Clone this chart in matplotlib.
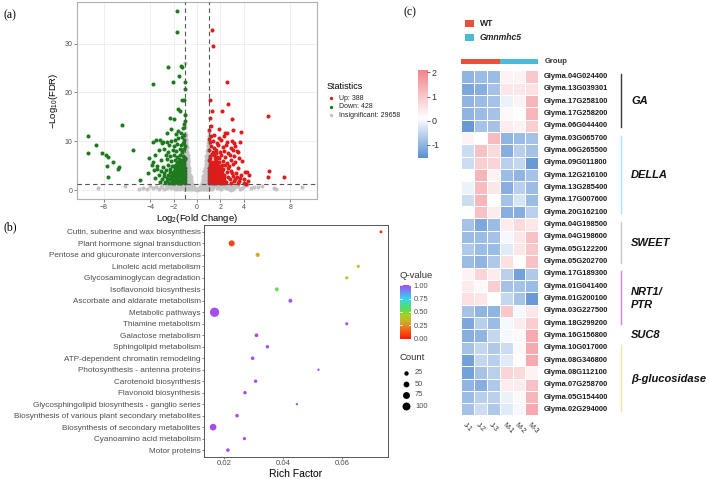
import numpy as np
import matplotlib
matplotlib.use('Agg')
import matplotlib.pyplot as plt
from matplotlib.colors import LinearSegmentedColormap, TwoSlopeNorm, Normalize

plt.rcParams['font.family'] = ['Liberation Sans', 'DejaVu Sans']
plt.rcParams['mathtext.default'] = 'regular'

# ---------------- (a) volcano: (log2 fold change, -log10 FDR) ----------------
up_pts = [
    (1.31, 32.7), (1.40, 29.6), (2.60, 22.1), (1.11, 18.5), (2.63, 17.7), (1.31, 16.1), (2.14, 16.1),
    (6.11, 15.1), (2.98, 14.5), (1.11, 14.7), (1.91, 12.6), (3.12, 12.4), (3.75, 11.9), (2.40, 11.7),
    (2.60, 11.7), (3.72, 9.8), (3.20, 9.7), (3.46, 8.1), (1.05, 12.3), (1.20, 13.2), (6.17, 4.0),
    (6.08, 2.7), (7.49, 2.7), (4.24, 1.35), (4.00, 1.4),
    (1.20, 11.0), (1.50, 11.2), (1.90, 10.7), (2.30, 11.0), (1.05, 10.5),
    (1.10, 9.9), (1.40, 10.1), (1.70, 9.7), (2.10, 10.2), (2.60, 9.8), (3.00, 10.1),
    (1.20, 9.0), (1.50, 8.7), (1.80, 9.2), (2.20, 8.8), (2.50, 9.3), (2.90, 8.6), (3.30, 9.1),
    (1.05, 8.2), (1.35, 7.9), (1.65, 8.3), (1.95, 7.8), (2.30, 8.1), (2.70, 7.7), (3.10, 8.3), (3.50, 7.9),
    (1.15, 7.0), (1.45, 7.3), (1.75, 6.8), (2.05, 7.1), (2.40, 6.7), (2.80, 7.2), (3.20, 6.9), (3.60, 6.6),
    (1.05, 6.1), (1.30, 5.8), (1.60, 6.2), (1.90, 5.7), (2.20, 6.0), (2.55, 5.6), (2.90, 6.2), (3.30, 5.8),
    (3.90, 5.9), (2.40, 5.1), (2.75, 4.9), (3.10, 5.3), (3.50, 4.6), (2.60, 3.8), (2.95, 4.0),
    (3.35, 3.6), (4.30, 3.75), (4.10, 3.7), (2.70, 2.7), (3.05, 3.0), (3.45, 2.6), (3.80, 3.1), (4.50, 3.2),
    (2.50, 1.7), (2.85, 2.2), (3.20, 1.9), (3.60, 1.8), (2.90, 1.45), (3.50, 1.5), (3.30, 2.3), (3.70, 2.5),
    (4.05, 2.2), (4.40, 1.9), (2.65, 4.5), (3.00, 3.5),
    # dense block just past the fold-change cut-off
    (1.04, 1.5), (1.18, 1.6), (1.33, 1.45), (1.49, 1.55), (1.64, 1.5), (1.79, 1.6), (1.96, 1.45), (2.12, 1.55), (2.31, 1.5),
    (1.06, 2.1), (1.21, 2.2), (1.36, 2.0), (1.52, 2.15), (1.67, 2.05), (1.83, 2.2), (1.98, 2.0), (2.14, 2.15), (2.33, 2.05),
    (1.03, 2.7), (1.19, 2.75), (1.34, 2.65), (1.50, 2.8), (1.66, 2.7), (1.81, 2.65), (1.97, 2.8), (2.13, 2.7), (2.29, 2.75),
    (1.07, 3.3), (1.22, 3.35), (1.37, 3.25), (1.53, 3.3), (1.68, 3.4), (1.84, 3.25), (2.00, 3.35), (2.16, 3.3), (2.35, 3.2),
    (1.04, 3.9), (1.20, 3.95), (1.35, 3.85), (1.51, 3.9), (1.66, 4.0), (1.82, 3.85), (1.98, 3.95), (2.18, 3.9),
    (1.06, 4.5), (1.22, 4.55), (1.38, 4.45), (1.54, 4.5), (1.70, 4.6), (1.86, 4.45), (2.04, 4.5), (2.24, 4.4),
    (1.08, 5.1), (1.25, 5.15), (1.42, 5.05), (1.58, 5.2), (1.75, 5.1), (1.93, 5.0), (2.12, 5.2),
    (1.12, 5.7), (1.45, 5.75), (1.72, 5.6), (1.15, 6.5), (1.55, 6.6), (1.30, 7.4), (1.60, 7.6), (1.90, 6.5),
]
down_pts = [
    (-1.74, 36.7), (-1.71, 32.4), (-2.48, 25.2), (-1.36, 25.4), (-1.27, 25.2), (-1.53, 23.3), (-3.80, 21.7),
    (-2.05, 22.1), (-1.02, 22.2), (-1.02, 20.6), (-1.33, 18.5), (-1.13, 18.5), (-1.62, 16.6), (-1.48, 16.3),
    (-2.34, 14.7), (-1.97, 14.5), (-1.05, 15.3), (-1.07, 14.2), (-1.10, 13.6), (-1.20, 12.8), (-1.60, 12.2),
    (-2.20, 12.5), (-1.40, 11.7), (-1.80, 11.4), (-2.60, 11.6), (-1.15, 11.2),
    (-6.48, 13.4), (-9.32, 11.1), (-8.66, 9.3), (-9.38, 7.7), (-8.14, 7.7), (-7.80, 7.2), (-7.68, 6.8),
    (-7.22, 5.7), (-7.74, 5.0), (-6.71, 4.8), (-6.74, 4.4), (-7.60, 2.7), (-5.53, 8.2), (-4.90, 2.1),
    (-4.20, 3.6), (-3.90, 5.1), (-3.60, 2.4), (-3.40, 4.4), (-4.10, 6.5), (-3.50, 10.2), (-3.75, 9.8),
    (-3.20, 10.3), (-2.90, 9.9), (-2.60, 9.9), (-2.20, 10.1), (-1.90, 10.3), (-1.60, 10.6), (-1.30, 10.9),
    (-1.10, 10.2), (-3.00, 9.6), (-2.40, 9.3), (-2.00, 9.0), (-1.70, 9.4), (-1.40, 9.2), (-1.20, 9.7),
    (-1.05, 9.0), (-3.30, 8.2), (-2.80, 8.5), (-2.50, 7.9), (-2.10, 8.3), (-1.80, 8.0), (-1.50, 8.4),
    (-1.25, 7.8), (-1.10, 8.5), (-3.60, 7.1), (-2.70, 7.3), (-2.30, 6.9), (-2.00, 7.2), (-1.70, 6.8),
    (-1.45, 7.3), (-1.20, 7.0), (-1.05, 6.6), (-3.80, 5.8), (-3.10, 6.1), (-2.60, 6.3), (-2.20, 5.9),
    (-1.90, 6.2), (-1.60, 5.7), (-1.35, 6.1), (-1.15, 5.9), (-1.02, 6.4), (-3.40, 5.0), (-2.90, 4.8),
    (-2.50, 5.2), (-2.15, 4.9), (-3.70, 4.2), (-3.10, 3.9), (-2.70, 4.1), (-2.35, 3.8), (-3.30, 3.1),
    (-2.80, 2.8), (-2.50, 3.2), (-2.20, 2.9), (-3.00, 2.2), (-2.60, 1.9), (-2.30, 2.3), (-2.40, 1.5),
    (-2.75, 1.6), (-3.20, 1.7), (-2.55, 2.5), (-2.35, 4.4), (-2.85, 3.5), (-2.15, 3.5),
    (-1.15, 6.5), (-1.30, 8.3), (-1.55, 6.4),
    # dense block just past the fold-change cut-off
    (-1.04, 1.5), (-1.19, 1.6), (-1.34, 1.45), (-1.50, 1.55), (-1.65, 1.5), (-1.81, 1.6), (-1.97, 1.45), (-2.13, 1.55),
    (-1.06, 2.1), (-1.21, 2.2), (-1.37, 2.0), (-1.52, 2.15), (-1.68, 2.05), (-1.84, 2.2), (-2.00, 2.0), (-2.16, 2.15),
    (-1.03, 2.7), (-1.18, 2.75), (-1.33, 2.65), (-1.49, 2.8), (-1.65, 2.7), (-1.80, 2.65), (-1.96, 2.8), (-2.12, 2.7),
    (-1.07, 3.3), (-1.22, 3.35), (-1.38, 3.25), (-1.54, 3.3), (-1.69, 3.4), (-1.85, 3.25), (-2.02, 3.35),
    (-1.04, 3.9), (-1.20, 3.95), (-1.35, 3.85), (-1.51, 3.9), (-1.67, 4.0), (-1.83, 3.85), (-1.99, 3.95),
    (-1.06, 4.5), (-1.22, 4.55), (-1.38, 4.45), (-1.54, 4.5), (-1.71, 4.6), (-1.88, 4.45),
    (-1.08, 5.1), (-1.25, 5.15), (-1.42, 5.05), (-1.59, 5.2), (-1.77, 5.1), (-1.95, 5.0),
    (-1.12, 5.6), (-1.40, 5.7), (-1.70, 5.6),
]
# insignificant genes: columns of (log2FC, [-log10 FDR, ...]) inside |log2FC| < 1
ns_columns = [
    (-1.00, [0.3, 1.0, 1.8, 2.6, 3.4, 4.2, 5.0, 5.8, 6.6, 7.4, 8.2, 9.0, 9.8, 10.7, 11.8, 13.0, 15.5, 26.1]),
    (-0.96, [0.6, 1.4, 2.2, 3.0, 3.8, 4.6, 5.4, 6.2, 7.0, 7.8, 8.6, 9.5, 10.4, 11.2]),
    (-0.91, [0.2, 1.0, 1.8, 2.6, 3.4, 4.2, 5.0, 5.8, 6.7, 7.6, 8.4, 9.3, 10.1]),
    (-0.86, [0.5, 1.3, 2.1, 2.9, 3.7, 4.6, 5.5, 6.3, 7.1, 7.9, 8.8]),
    (-0.81, [0.2, 0.9, 1.7, 2.5, 3.3, 4.1, 4.9, 5.7, 6.5, 7.3]),
    (-0.75, [0.5, 1.2, 2.0, 2.8, 3.5, 4.3, 5.1, 5.9]),
    (-0.69, [0.2, 0.9, 1.6, 2.4, 3.1, 3.9, 4.6]),
    (-0.62, [0.4, 1.1, 1.8, 2.5, 3.2]),
    (-0.55, [0.2, 0.8, 1.4, 2.0, 2.6]),
    (-0.48, [0.4, 1.0, 1.6]),
    (-0.40, [0.2, 0.7, 1.2]),
    (-0.32, [0.4, 0.9]),
    (-0.24, [0.2, 0.6]),
    (-0.16, [0.3]),
    (-0.08, [0.15]),
    (0.00, [0.1]),
    (0.08, [0.2]),
    (0.16, [0.15, 0.5]),
    (0.24, [0.3, 0.7]),
    (0.32, [0.2, 0.7, 1.1]),
    (0.40, [0.4, 0.9, 1.4]),
    (0.48, [0.2, 0.8, 1.4, 2.0]),
    (0.55, [0.5, 1.1, 1.7, 2.3, 2.9]),
    (0.62, [0.3, 1.0, 1.7, 2.5, 3.2, 3.9]),
    (0.69, [0.6, 1.4, 2.2, 3.0, 3.8, 4.5]),
    (0.75, [0.2, 1.0, 1.8, 2.6, 3.4, 4.3, 5.2, 6.0]),
    (0.81, [0.5, 1.3, 2.1, 2.9, 3.7, 4.5, 5.3, 6.1, 7.0]),
    (0.86, [0.2, 0.9, 1.7, 2.5, 3.3, 4.1, 4.9, 5.7, 6.5, 7.3, 8.1]),
    (0.91, [0.5, 1.3, 2.1, 2.9, 3.7, 4.5, 5.3, 6.1, 6.9, 7.7, 8.5, 9.3]),
    (0.96, [0.2, 1.0, 1.8, 2.6, 3.4, 4.2, 5.0, 5.8, 6.6, 7.4, 8.2, 9.0, 9.8]),
    (1.00, [0.4, 1.1, 1.9, 2.7, 3.5, 4.3, 5.1, 5.9, 6.7, 7.5, 8.3, 9.1, 10.0, 11.0, 12.0]),
]
ns_low = [
    (-8.5, 0.4), (-6.2, 0.8), (-5.0, 0.3), (-4.6, 0.5), (-4.0, 0.9), (-3.5, 0.6), (-3.0, 1.0), (-2.6, 0.4),
    (-2.3, 1.1), (-2.0, 0.7), (-1.7, 0.3), (-1.5, 1.0), (-1.3, 0.6), (-1.2, 1.1), (-1.1, 0.2), (1.1, 0.3),
    (1.2, 1.0), (1.4, 0.6), (1.6, 1.1), (1.9, 0.4), (2.2, 0.9), (2.5, 0.5), (2.8, 1.1), (2.95, 0.1),
    (3.1, 0.3), (3.5, 0.8), (3.9, 0.5), (4.3, 1.0), (4.6, 0.35), (5.2, 0.6), (5.6, 0.9), (6.57, 0.5),
    (6.8, 0.2), (9.0, 0.75), (-1.8, 0.9), (-2.8, 0.2), (1.8, 0.8), (3.3, 0.6),
    (-3.3, 0.3), (-3.1, 0.7), (-2.7, 1.0), (-2.5, 0.8), (-2.2, 0.4), (-2.05, 1.15), (-1.9, 0.2), (-1.6, 0.6),
    (-1.45, 0.3), (-1.35, 0.9), (-1.15, 0.6), (-1.05, 1.15), (1.05, 0.7), (1.15, 1.15), (1.3, 0.3), (1.5, 0.8),
    (1.7, 0.5), (2.0, 1.1), (2.1, 0.2), (2.35, 0.6), (2.65, 0.8), (2.75, 0.3), (3.0, 0.7), (3.25, 1.0),
    (3.7, 0.3), (4.0, 0.8), (-3.8, 0.4), (-4.3, 0.2), (4.9, 0.6), (-1.75, 1.1), (1.35, 1.05), (2.45, 1.1),
]
n_up, n_down, n_ns = 388, 428, 29658

# ---------------- (b) KEGG enrichment ----------------
pathways = [
    'Cutin, suberine and wax biosynthesis', 'Plant hormone signal transduction',
    'Pentose and glucuronate interconversions', 'Linoleic acid metabolism',
    'Glycosaminoglycan degradation', 'Isoflavonoid biosynthesis',
    'Ascorbate and aldarate metabolism', 'Metabolic pathways', 'Thiamine metabolism',
    'Galactose metabolism', 'Sphingolipid metabolism', 'ATP-dependent chromatin remodeling',
    'Photosynthesis - antenna proteins', 'Carotenoid biosynthesis', 'Flavonoid biosynthesis',
    'Glycosphingolipid biosynthesis - ganglio series',
    'Biosynthesis of various plant secondary metabolites',
    'Biosynthesis of secondary metabolites', 'Cyanoamino acid metabolism', 'Motor proteins',
]
rich_factor = [0.0732, 0.0226, 0.0314, 0.0655, 0.0616, 0.0379, 0.0425, 0.0168, 0.0616, 0.0310,
               0.0347, 0.0297, 0.0520, 0.0307, 0.0271, 0.0447, 0.0244, 0.0163, 0.0269, 0.0213]
gene_count = [6, 54, 22, 8, 10, 18, 18, 140, 8, 16, 12, 14, 1, 12, 12, 1, 14, 69, 10, 14]
q_value = [0.05, 0.10, 0.31, 0.36, 0.42, 0.55, 0.98, 1.0, 1.0, 1.0,
           1.0, 1.0, 1.0, 1.0, 1.0, 1.0, 1.0, 1.0, 1.0, 1.0]
count_breaks = [25, 50, 75, 100]
q_breaks = [0.0, 0.25, 0.5, 0.75, 1.0]

# ---------------- (c) heatmap ----------------
samples = ['J-1', 'J-2', 'J-3', 'M-1', 'M-2', 'M-3']
genes = [
    'Glyma.04G024400', 'Glyma.13G039301', 'Glyma.17G258100', 'Glyma.17G258200', 'Glyma.06G044400',
    'Glyma.03G065700', 'Glyma.06G265500', 'Glyma.09G011800', 'Glyma.12G216100', 'Glyma.13G285400',
    'Glyma.17G007600', 'Glyma.20G162100', 'Glyma.04G198500', 'Glyma.04G198600', 'Glyma.05G122200',
    'Glyma.05G202700', 'Glyma.17G189300', 'Glyma.01G041400', 'Glyma.01G200100', 'Glyma.03G227500',
    'Glyma.18G299200', 'Glyma.16G156800', 'Glyma.10G017000', 'Glyma.08G346800', 'Glyma.08G112100',
    'Glyma.07G258700', 'Glyma.05G154400', 'Glyma.02G294000',
]
zscore = [
    [-1.0, -0.9, -0.9, 0.3, 0.3, 1.0],
    [-1.2, -1.1, -0.8, 0.5, 0.5, 0.6],
    [-1.0, -0.9, -0.8, -0.1, 0.3, 1.3],
    [-1.0, -0.9, -0.8, 0.2, 0.1, 1.3],
    [-1.4, -0.8, -0.8, 0.4, 0.3, 0.9],
    [0.3, 0.1, 1.2, -1.0, -0.9, -0.8],
    [-0.4, 1.1, 0.7, -1.1, -0.6, -0.8],
    [-0.4, 0.9, 0.8, -0.6, -0.5, -1.4],
    [0.1, 1.3, 0.3, -0.9, -1.0, -0.8],
    [-0.1, 1.2, 0.5, -1.1, -0.6, -0.9],
    [-0.4, 1.3, 0.1, -0.8, -0.3, -0.9],
    [0.1, 1.1, 0.4, -1.1, -1.1, -0.6],
    [-0.8, -1.2, -0.9, 0.4, 0.7, 0.5],
    [-0.9, -0.9, -0.8, 0.0, 0.5, 1.1],
    [-0.7, -0.9, -0.9, -0.2, 0.5, 1.0],
    [-0.9, -1.0, -0.7, 0.6, 0.1, 1.1],
    [0.3, 0.8, 0.4, -0.6, -1.3, -0.7],
    [0.4, 0.2, 0.9, -0.8, -0.8, -0.9],
    [0.6, 0.5, 0.1, -0.5, -0.8, -1.4],
    [-0.8, -1.0, -1.0, 1.0, 0.0, 0.5],
    [-1.2, -0.6, -0.9, 0.0, 0.4, 0.9],
    [-1.1, -1.0, -0.5, 0.0, 0.2, 1.5],
    [-0.8, -0.5, -0.7, -0.4, 0.2, 1.5],
    [-1.3, -0.5, -0.6, -0.2, 0.1, 1.5],
    [-1.3, -0.8, -0.6, 0.8, 0.7, 0.3],
    [-1.0, -1.1, -0.7, 0.4, 0.4, 1.1],
    [-0.9, -0.6, -0.6, -0.1, 0.2, 1.3],
    [-0.8, -0.4, -0.7, -0.2, 0.0, 1.5],
]
groups = ['WT', 'WT', 'WT', 'Gmnmhc5', 'Gmnmhc5', 'Gmnmhc5']
family_names = ['GA', 'DELLA', 'SWEET', 'NRT1/\nPTR', 'SUC8', 'β-glucosidase']
family_sizes = [5, 7, 4, 5, 1, 6]

# ---------------- styles ----------------
group_colors = {'WT': '#e8503c', 'Gmnmhc5': '#4bbad6'}
family_line_colors = ['#3a3a3a', '#a8e4f0', '#c8c8c8', '#d77fe0', None, '#f3e3a8']
grey_txt = '#4d4d4d'

fig = plt.figure(figsize=(7.09, 4.79), dpi=100)

# ===== (a) volcano =====
axa = fig.add_axes([0.1086, 0.5846, 0.3385, 0.4112])
ns_pts = [(x, y) for x, ys in ns_columns for y in ys] + ns_low
for pts, col in [(ns_pts, '#c4c4c4'), (down_pts, '#1d7a1d'), (up_pts, '#dd1c1c')]:
    arr = np.array(pts)
    axa.scatter(arr[:, 0], arr[:, 1], s=8.5, c=col, linewidths=0, zorder=3)
axa.axvline(-1, color='#555555', lw=0.8, ls=(0, (4, 3)), zorder=4)
axa.axvline(1, color='#555555', lw=0.8, ls=(0, (4, 3)), zorder=4)
axa.axhline(-np.log10(0.05), color='#555555', lw=0.8, ls=(0, (4, 3)), zorder=4)
axa.set_xlim(-10.3, 10.3)
axa.set_ylim(-1.8, 38.5)
axa.set_xticks([-8, -4, -2, 0, 2, 4, 8])
axa.set_yticks([0, 10, 20, 30])
axa.grid(True, color='#ececec', lw=0.6, zorder=0)
axa.set_axisbelow(True)
axa.tick_params(labelsize=5, colors=grey_txt, length=2, width=0.5, pad=1.5)
for sp in axa.spines.values():
    sp.set_color('#b0b0b0')
    sp.set_linewidth(0.8)
axa.set_xlabel('Log$_2$(Fold Change)', fontsize=6.8, labelpad=1)
axa.set_ylabel('$-$Log$_{10}$(FDR)', fontsize=6.8, labelpad=3)

# ===== (b) enrichment bubble =====
q_cmap = LinearSegmentedColormap.from_list('q', [
    (0.0, '#ff1a00'), (0.18, '#f06a1c'), (0.32, '#cdb02a'), (0.44, '#a6d21f'),
    (0.56, '#55e05a'), (0.75, '#36d6ee'), (0.88, '#6d8cf2'), (1.0, '#a64cec')])


def bubble_area(n):
    return 2.5 + 0.3 * np.asarray(n, dtype=float)


axb = fig.add_axes([0.2877, 0.0459, 0.2596, 0.4844])
ypos = np.arange(len(pathways))
axb.scatter(rich_factor, ypos, s=bubble_area(gene_count), c=q_value, cmap=q_cmap,
            norm=Normalize(0, 1), linewidths=0, zorder=3)
axb.set_ylim(len(pathways) - 0.4, -0.6)
axb.set_xlim(0.0132, 0.0756)
axb.set_yticks(ypos)
axb.set_yticklabels(pathways, fontsize=5.9)
axb.set_xticks([0.02, 0.04, 0.06])
axb.set_xticklabels(['0.02', '0.04', '0.06'], fontsize=5.6)
axb.tick_params(colors=grey_txt, length=1.5, width=0.5, pad=1)
for sp in axb.spines.values():
    sp.set_color('#555555')
    sp.set_linewidth(0.7)
axb.set_xlabel('Rich Factor', fontsize=7.5, labelpad=1)

# Q-value colour bar
cax = fig.add_axes([0.5642, 0.2923, 0.0155, 0.1127])
grad = np.linspace(0, 1, 200).reshape(-1, 1)
cax.imshow(grad, aspect='auto', cmap=q_cmap, origin='lower', extent=[0, 1, 0, 1])
for q in q_breaks:
    cax.plot([0, 0.2], [q, q], color='white', lw=0.6)
    cax.plot([0.8, 1], [q, q], color='white', lw=0.6)
cax.set_xlim(0, 1)
cax.set_ylim(0, 1)
cax.set_xticks([])
cax.yaxis.tick_right()
cax.set_yticks(q_breaks)
cax.set_yticklabels(['%.2f' % q for q in q_breaks])
cax.tick_params(labelsize=5.4, colors=grey_txt, length=0, pad=2)
for sp in cax.spines.values():
    sp.set_visible(False)

# ===== (c) heatmap =====
hm_cmap = LinearSegmentedColormap.from_list('hm', ['#5b90d2', '#ffffff', '#f2858c'])
hm_norm = TwoSlopeNorm(vmin=-1.55, vcenter=0.1, vmax=2.1)
axc = fig.add_axes([0.6502, 0.1326, 0.1090, 0.7203])
Z = np.array(zscore)
axc.pcolormesh(np.arange(Z.shape[1] + 1), np.arange(Z.shape[0] + 1), Z, cmap=hm_cmap,
               norm=hm_norm, edgecolors='white', linewidth=0.5)
axc.set_xlim(0, Z.shape[1])
axc.set_ylim(Z.shape[0], 0)
axc.axis('off')
for i, g in enumerate(genes):
    axc.text(6.45, i + 0.5, g, fontsize=5.4, fontweight='bold', va='center', ha='left',
             color='#1a1a1a', clip_on=False)
for j, s in enumerate(samples):
    axc.text(j + 0.45, 28.45, s, fontsize=5, rotation=-45, ha='left', va='top',
             rotation_mode='anchor', color='#333333', clip_on=False)

start = 0
for name, size, lc in zip(family_names, family_sizes, family_line_colors):
    end = start + size
    if lc is not None:
        axc.plot([12.46, 12.46], [start + 0.3, end - 0.4], color=lc, lw=1.0, clip_on=False)
    axc.text(13.2, (start + end) / 2, name, fontsize=8, fontweight='bold', style='italic',
             va='center', ha='left', color='#111111', clip_on=False, linespacing=1.3)
    start = end

# group annotation bar
gax = fig.add_axes([0.6502, 0.8664, 0.1090, 0.0098])
for j, g in enumerate(groups):
    gax.axvspan(j, j + 1, color=group_colors[g], lw=0)
gax.set_xlim(0, len(groups))
gax.axis('off')

# heatmap colour bar
hcax = fig.add_axes([0.5896, 0.6701, 0.0127, 0.1837])
vals = np.linspace(-1.55, 2.1, 300).reshape(-1, 1)
hcax.imshow(vals, aspect='auto', cmap=hm_cmap, norm=hm_norm, origin='lower',
            extent=[0, 1, -1.55, 2.1])
hcax.set_xlim(0, 1)
hcax.set_ylim(-1.55, 2.1)
hcax.set_xticks([])
hcax.yaxis.tick_right()
hcax.set_yticks([-1, 0, 1, 2])
hcax.set_yticklabels(['-1', '0', '1', '2'])
hcax.tick_params(labelsize=6.5, colors='#333333', length=2, width=0.5, pad=1)
for sp in hcax.spines.values():
    sp.set_visible(False)

# ===== overlay in pixel units: panel labels and hand-placed legends =====
ov = fig.add_axes([0, 0, 1, 1])
ov.set_xlim(0, 709)
ov.set_ylim(479, 0)
ov.axis('off')
for lab, (px, py) in {'(a)': (3, 15), '(b)': (3, 227), '(c)': (404, 12)}.items():
    ov.text(px, py, lab, fontsize=8.5, family='Liberation Serif', va='center', ha='left')

# volcano legend
ov.text(327, 86, 'Statistics', fontsize=6.5, va='center', ha='left')
leg_items = [('Up: %d' % n_up, '#dd1c1c'), ('Down: %d' % n_down, '#1d7a1d'),
             ('Insignificant: %d' % n_ns, '#c4c4c4')]
for k, (txt, col) in enumerate(leg_items):
    yy = 98 + k * 8.5
    ov.scatter([331], [yy], s=6, c=col, linewidths=0)
    ov.text(339, yy, txt, fontsize=5, va='center', ha='left', color='#222222')

# enrichment legend titles and count sizes
ov.text(399, 276, 'Q-value', fontsize=6.8, va='center', ha='left', color='#333333')
ov.text(399, 358, 'Count', fontsize=6.8, va='center', ha='left', color='#333333')
for k, n in enumerate(count_breaks):
    yy = 373 + k * 11
    ov.scatter([405.5], [yy], s=bubble_area(n), c='black', linewidths=0)
    ov.text(415, yy, str(n), fontsize=5.4, va='center', ha='left', color=grey_txt)

# heatmap group legend
for k, g in enumerate(['WT', 'Gmnmhc5']):
    yy = 23.5 + k * 14
    ov.add_patch(plt.Rectangle((465, yy - 3.8), 9, 7.6, color=group_colors[g], lw=0))
    ov.text(480, yy, g, fontsize=6.2, fontweight='bold', style='normal' if g == 'WT' else 'italic',
            va='center', ha='left', color='#222222')
ov.text(545, 61.5, 'Group', fontsize=5.5, fontweight='bold', va='center', ha='left', color='#333333')

fig.savefig('out.png', dpi=100)
